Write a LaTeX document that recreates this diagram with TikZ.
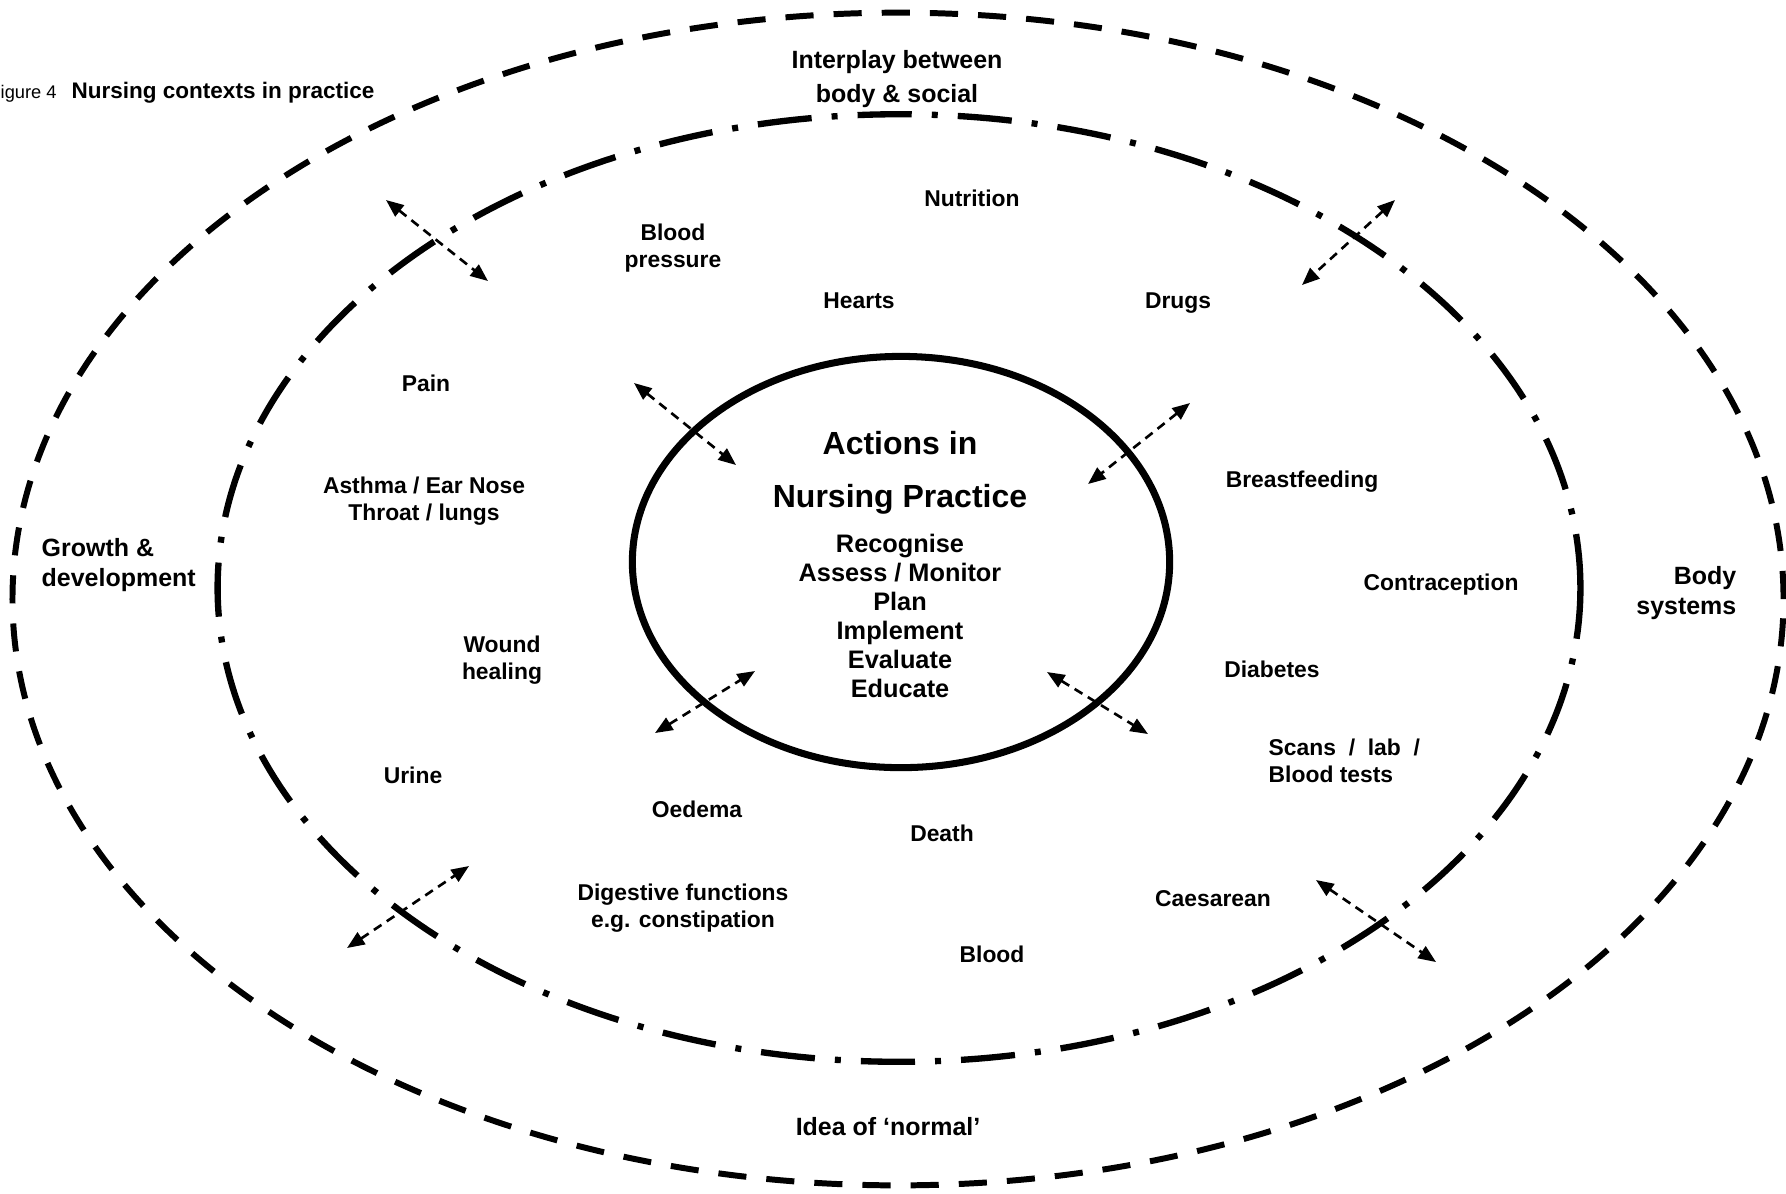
\documentclass[tikz,border=0pt]{standalone}
\usepackage{fontspec}
\setmainfont{Liberation Sans}
\usetikzlibrary{arrows.meta}
\begin{document}
\begin{tikzpicture}[x=0.01cm,y=-0.01cm,
  lbl/.style={font=\fontsize{6.5}{7.7}\selectfont\bfseries, align=center, inner sep=0pt},
  edgelbl/.style={font=\fontsize{7.1}{9.6}\selectfont\bfseries, align=center, inner sep=0pt},
  sidelbl/.style={font=\fontsize{7.1}{8.4}\selectfont\bfseries, inner sep=0pt},
  biglbl/.style={font=\fontsize{9.1}{10}\selectfont\bfseries, inner sep=0pt},
  actlbl/.style={font=\fontsize{7.2}{8.2}\selectfont\bfseries, align=center, inner sep=0pt},
  outerring/.style={line width=1.7pt, dash pattern=on 8pt off 5.7pt},
  innerring/.style={line width=1.8pt, dash pattern=on 15.4pt off 5.7pt on 1.7pt off 5.7pt},
  corering/.style={line width=2pt},
  link/.style={line width=0.75pt, dash pattern=on 2.6pt off 1.8pt,
    {Triangle[length=5pt,width=4pt]}-{Triangle[length=5pt,width=4pt]}}
]
\useasboundingbox (0,0) rectangle (1786,1193);

% rings
\draw[outerring] (898,599) ellipse [x radius=8.85cm, y radius=5.86cm];
\draw[innerring] (899,588) ellipse [x radius=6.81cm, y radius=4.735cm];
\draw[corering] (901,562) ellipse [x radius=2.685cm, y radius=2.055cm];

% title
\node[anchor=base west, inner sep=0pt, font=\fontsize{5.2}{6}\selectfont] (fignum) at (0,98) {igure 4};
\node[anchor=base west, inner sep=0pt, font=\fontsize{6.4}{7.5}\selectfont\bfseries] (title) at (71,98) {Nursing contexts in practice};

% edge labels
\node[edgelbl] (interplay) at (897,79) {Interplay between\\body \& social};
\node[sidelbl, align=left, anchor=west] (growth) at (41,565) {Growth \&\\development};
\node[sidelbl, align=right, anchor=east] (body) at (1737,593) {Body\\systems};
\node[edgelbl] (normal) at (888,1127) {Idea of ‘normal’};

% centre
\node[biglbl] (actions) at (900,443) {Actions in};
\node[biglbl] (nursing) at (900,499) {Nursing Practice};
\node[actlbl] (steps) at (900,616) {Recognise\\Assess / Monitor\\Plan\\Implement\\Evaluate\\Educate};

% topic labels
\node[lbl] (nutrition) at (972,198) {Nutrition};
\node[lbl] (bp) at (673,248) {Blood\\pressure};
\node[lbl] (hearts) at (859,301) {Hearts};
\node[lbl] (drugs) at (1178,303) {Drugs};
\node[lbl] (pain) at (426,383) {Pain};
\node[lbl] (asthma) at (424,501) {Asthma / Ear Nose\\Throat / lungs};
\node[lbl] (breast) at (1302,482) {Breastfeeding};
\node[lbl] (contra) at (1441,585) {Contraception};
\node[lbl] (wound) at (502,660) {Wound\\healing};
\node[lbl] (diabetes) at (1272,669) {Diabetes};
\node[lbl, align=left, anchor=west] (scans) at (1268,761) {Scans \ / \ lab \ /\\Blood tests};
\node[lbl] (urine) at (413,775) {Urine};
\node[lbl] (oedema) at (697,809) {Oedema};
\node[lbl] (death) at (942,833) {Death};
\node[lbl] (digest) at (683,908) {Digestive functions\\e.g. constipation};
\node[lbl] (caes) at (1213,899) {Caesarean};
\node[lbl] (blood) at (992,954) {Blood};

% arrow end points
\coordinate (a1s) at (386,200); \coordinate (a1e) at (488,281);
\coordinate (a2s) at (634,383); \coordinate (a2e) at (736,465);
\coordinate (a3s) at (1190,403); \coordinate (a3e) at (1088,484);
\coordinate (a4s) at (655,733); \coordinate (a4e) at (755,671);
\coordinate (a5s) at (1047,672); \coordinate (a5e) at (1148,734);
\coordinate (a6s) at (347,948); \coordinate (a6e) at (469,866);
\coordinate (a7s) at (1316,880); \coordinate (a7e) at (1436,962);
\coordinate (a8s) at (1395,200); \coordinate (a8e) at (1302,285);

\draw[link] (a1s) -- (a1e);
\draw[link] (a2s) -- (a2e);
\draw[link] (a3s) -- (a3e);
\draw[link] (a4s) -- (a4e);
\draw[link] (a5s) -- (a5e);
\draw[link] (a6s) -- (a6e);
\draw[link] (a7s) -- (a7e);
\draw[link] (a8s) -- (a8e);
\end{tikzpicture}
\end{document}
